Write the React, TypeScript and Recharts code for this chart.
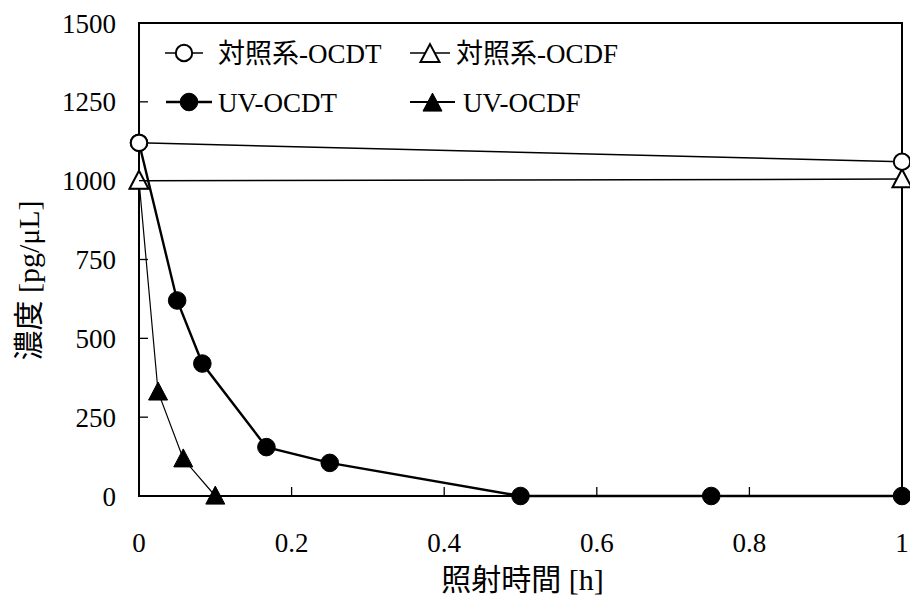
import React from "react";
import { LineChart, Line, XAxis, YAxis, ReferenceArea, Label } from "recharts";

// Irradiation time [h]
const ctrlOcdtTime = [0, 1];
const ctrlOcdfTime = [0, 1];
const uvOcdtTime = [0, 0.05, 0.083, 0.167, 0.25, 0.5, 0.75, 1];
const uvOcdfTime = [0, 0.025, 0.058, 0.1];

// Concentration [pg/μL]
const ctrlOcdtConc = [1120, 1060];
const ctrlOcdfConc = [1000, 1005];
const uvOcdtConc = [1120, 620, 420, 155, 105, 0, 0, 0];
const uvOcdfConc = [1000, 330, 118, 0];

const xTicks = [0, 0.2, 0.4, 0.6, 0.8, 1];
const yTicks = [0, 250, 500, 750, 1000, 1250, 1500];

const seriesNames = ["対照系-OCDT", "対照系-OCDF", "UV-OCDT", "UV-OCDF"];

const toRows = (t: number[], c: number[]) => t.map((x, i) => ({ t: x, c: c[i] }));

const FONT = "'Liberation Serif', 'Times New Roman', 'Noto Sans CJK JP', serif";
const W = 910;
const H = 596;

type MarkerKind = "circleOpen" | "circleFilled" | "triOpen" | "triFilled";

const Marker = ({ kind, cx, cy }: { kind: MarkerKind; cx: number; cy: number }) => {
  if (kind === "circleOpen" || kind === "circleFilled") {
    const filled = kind === "circleFilled";
    return <circle cx={cx} cy={cy} r={filled ? 8.8 : 8.2} fill={filled ? "#000" : "#fff"} stroke="#000" strokeWidth={filled ? 1 : 2} />;
  }
  const filled = kind === "triFilled";
  const hw = 9.5;
  const h = 18;
  const pts = `${cx},${cy - h * 0.55} ${cx + hw},${cy + h * 0.45} ${cx - hw},${cy + h * 0.45}`;
  return <polygon points={pts} fill={filled ? "#000" : "#fff"} stroke="#000" strokeWidth={filled ? 1 : 2} strokeLinejoin="miter" />;
};

const dotFor = (kind: MarkerKind) => (props: any) => {
  const { cx, cy, index } = props;
  if (cx == null || cy == null) return <g key={`d-${kind}-${index}`} />;
  return (
    <g key={`d-${kind}-${index}`}>
      <Marker kind={kind} cx={cx} cy={cy} />
    </g>
  );
};

const TICK_IN = 9;

const XTick = (props: any) => {
  const { x, y, payload } = props;
  const v = payload.value as number;
  const showLine = v > 0 && v < 1;
  return (
    <g>
      {showLine && <line x1={x} y1={y} x2={x} y2={y - TICK_IN} stroke="#000" strokeWidth={1.3} />}
      <text x={x} y={y + 56} textAnchor="middle" fontFamily={FONT} fontSize={27} fill="#000">
        {String(v)}
      </text>
    </g>
  );
};

const YTick = (props: any) => {
  const { x, y, payload } = props;
  const v = payload.value as number;
  const showLine = v > 0 && v < 1500;
  return (
    <g>
      {showLine && <line x1={x} y1={y} x2={x + TICK_IN} y2={y} stroke="#000" strokeWidth={1.3} />}
      <text x={x - 23} y={y + 9.5} textAnchor="end" fontFamily={FONT} fontSize={27} fill="#000">
        {String(v)}
      </text>
    </g>
  );
};

const XLabel = (props: any) => {
  const vb = props.viewBox || {};
  return (
    <text x={vb.x + vb.width / 2 + 2} y={vb.y + 94} textAnchor="middle" fontFamily={FONT} fontSize={30} fill="#000">
      照射時間 [h]
    </text>
  );
};

const YLabel = (props: any) => {
  const vb = props.viewBox || {};
  const cx = 39;
  const cy = vb.y + vb.height / 2 + 21;
  return (
    <text x={cx} y={cy} transform={`rotate(-90 ${cx} ${cy})`} textAnchor="middle" fontFamily={FONT} fontSize={30} fill="#000">
      濃度 [pg/μL]
    </text>
  );
};

const legendItems: { name: string; kind: MarkerKind; x: number; y: number; lw: number; len: number; tx: number }[] = [
  { name: seriesNames[0], kind: "circleOpen", x: 165, y: 53, lw: 1.5, len: 38, tx: 218 },
  { name: seriesNames[1], kind: "triOpen", x: 410, y: 53, lw: 1.5, len: 40, tx: 456 },
  { name: seriesNames[2], kind: "circleFilled", x: 166, y: 102, lw: 2.5, len: 46, tx: 218 },
  { name: seriesNames[3], kind: "triFilled", x: 410, y: 102, lw: 2, len: 45, tx: 463 },
];

const LegendOverlay = () => (
  <svg width={W} height={H} style={{ position: "absolute", left: 0, top: 0, pointerEvents: "none" }}>
    {legendItems.map((it) => (
      <g key={it.name}>
        <line x1={it.x} y1={it.y} x2={it.x + it.len} y2={it.y} stroke="#000" strokeWidth={it.lw} />
        <Marker kind={it.kind} cx={it.x + it.len / 2} cy={it.y + (it.kind.startsWith("tri") ? 1 : 0)} />
        <text x={it.tx} y={it.y + 10} fontFamily={FONT} fontSize={27} fill="#000">
          {it.name}
        </text>
      </g>
    ))}
  </svg>
);

export default function App() {
  return (
    <div style={{ position: "absolute", left: 0, top: 0, width: W, height: H, background: "#fff" }}>
      <LineChart width={W} height={H} margin={{ top: 23, right: 8, bottom: 0, left: 0 }}>
        <XAxis
          dataKey="t"
          type="number"
          domain={[0, 1]}
          ticks={xTicks}
          allowDecimals
          tickSize={0}
          tickMargin={0}
          tickLine={false}
          tick={<XTick />}
          axisLine={{ stroke: "#000", strokeWidth: 2 }}
          height={100}
          interval={0}
        >
          <Label content={<XLabel />} />
        </XAxis>
        <YAxis
          dataKey="c"
          type="number"
          domain={[0, 1500]}
          ticks={yTicks}
          tickSize={0}
          tickMargin={0}
          tickLine={false}
          tick={<YTick />}
          axisLine={{ stroke: "#000", strokeWidth: 2 }}
          width={139}
          interval={0}
        >
          <Label content={<YLabel />} />
        </YAxis>
        <ReferenceArea x1={0} x2={1} y1={0} y2={1500} fill="none" stroke="#000" strokeWidth={2} />
        <Line
          data={toRows(uvOcdfTime, uvOcdfConc)}
          dataKey="c"
          name={seriesNames[3]}
          stroke="#000"
          strokeWidth={1.2}
          dot={dotFor("triFilled")}
          isAnimationActive={false}
        />
        <Line
          data={toRows(uvOcdtTime, uvOcdtConc)}
          dataKey="c"
          name={seriesNames[2]}
          stroke="#000"
          strokeWidth={2.4}
          dot={dotFor("circleFilled")}
          isAnimationActive={false}
        />
        <Line
          data={toRows(ctrlOcdfTime, ctrlOcdfConc)}
          dataKey="c"
          name={seriesNames[1]}
          stroke="#000"
          strokeWidth={1.5}
          dot={dotFor("triOpen")}
          isAnimationActive={false}
        />
        <Line
          data={toRows(ctrlOcdtTime, ctrlOcdtConc)}
          dataKey="c"
          name={seriesNames[0]}
          stroke="#000"
          strokeWidth={1.5}
          dot={dotFor("circleOpen")}
          isAnimationActive={false}
        />
      </LineChart>
      <LegendOverlay />
    </div>
  );
}
